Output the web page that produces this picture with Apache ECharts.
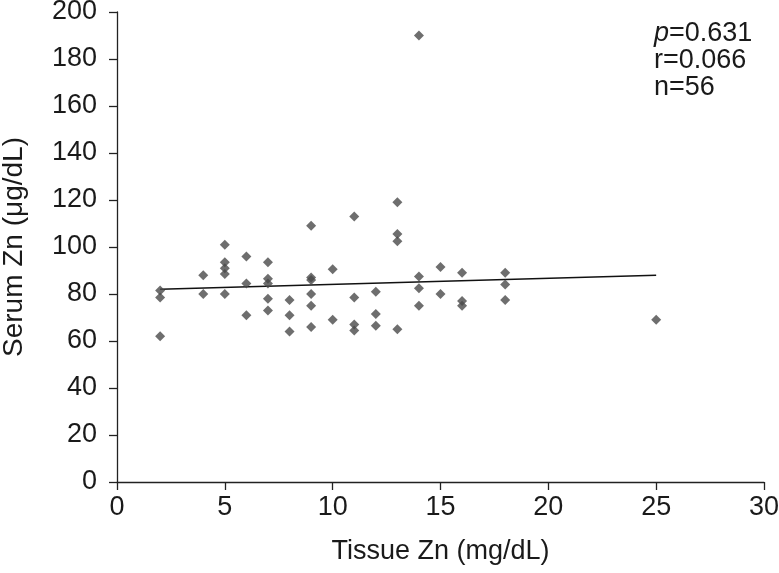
<!DOCTYPE html>
<html><head><meta charset="utf-8">
<script src="https://cdn.jsdelivr.net/npm/echarts@6/dist/echarts.min.js"></script>
<style>html,body{margin:0;padding:0;background:#fff}#c{width:779px;height:573px}</style>
</head><body><div id="c"></div>
<script>
// Tissue Zn (mg/dL) values
const tissueZn = [2,2,2, 4,4, 5,5,5,5,5, 6,6,6, 7,7,7,7,7, 8,8,8, 9,9,9,9,9,9, 10,10, 11,11,11,11, 12,12,12, 13,13,13,13, 14,14,14,14, 15,15, 16,16,16, 18,18,18, 25];
// Serum Zn (µg/dL) values
const serumZn  = [81.5,78.5,62, 88,80, 101,93.5,91,88.5,80, 96,84.5,71, 93.5,86.5,84.5,78,73, 77.5,71,64, 109,87,86,80,75,66, 90.5,69, 113,78.5,67,64.5, 81,71.5,66.5, 119,105.5,102.5,65, 190,87.5,82.5,75, 91.5,80, 89,77,75, 89,84,77.5, 69];
// regression line endpoints
const fitX = [2, 25];
const fitY = [82, 88];
const xTicks = [0,5,10,15,20,25,30];
const yTicks = [0,20,40,60,80,100,120,140,160,180,200];

const pts = tissueZn.map((x,i)=>[x, serumZn[i]]);
const fit = fitX.map((x,i)=>[x, fitY[i]]);
const chart = echarts.init(document.getElementById('c'));
const font = 'Liberation Sans, Arial, sans-serif';
const fs = 27;
chart.setOption({
  animation:false,
  grid:{left:117,right:15,top:12,bottom:91,containLabel:false,outerBoundsMode:'none'},
  xAxis:{type:'value',min:xTicks[0],max:xTicks[xTicks.length-1],interval:5,
    name:'Tissue Zn (mg/dL)',nameLocation:'middle',nameGap:56,
    nameTextStyle:{fontSize:fs,color:'#1a1a1a',fontFamily:font},
    axisLine:{onZero:false,lineStyle:{color:'#222',width:1.3}},
    axisTick:{show:true,length:8,lineStyle:{color:'#222',width:1.3}},
    axisLabel:{fontSize:fs,color:'#1a1a1a',fontFamily:font,margin:12},
    splitLine:{show:false}},
  yAxis:{type:'value',min:yTicks[0],max:yTicks[yTicks.length-1],interval:20,
    name:'Serum Zn (\u03bcg/dL)',nameLocation:'middle',nameGap:89,
    nameTextStyle:{fontSize:28,color:'#1a1a1a',fontFamily:font},
    axisLine:{show:true,lineStyle:{color:'#222',width:1.3}},
    axisTick:{show:true,length:8,lineStyle:{color:'#222',width:1.3}},
    axisLabel:{fontSize:fs,color:'#1a1a1a',fontFamily:font,margin:20},
    splitLine:{show:false}},
  series:[
    {type:'scatter',data:pts,symbol:'diamond',symbolSize:10,itemStyle:{color:'#4a4a4a'},z:3},
    {type:'line',data:fit,symbol:'none',lineStyle:{color:'#111',width:1.6},z:2}
  ],
  graphic:[
    {type:'text',left:654,top:20,style:{text:'{i|p}=0.631\nr=0.066\nn=56',fill:'#1a1a1a',
      font:fs+'px '+font,lineHeight:27,
      rich:{i:{fontStyle:'italic',fontSize:fs,fontFamily:font,fill:'#1a1a1a',lineHeight:27}}}}
  ]
});
</script></body></html>
